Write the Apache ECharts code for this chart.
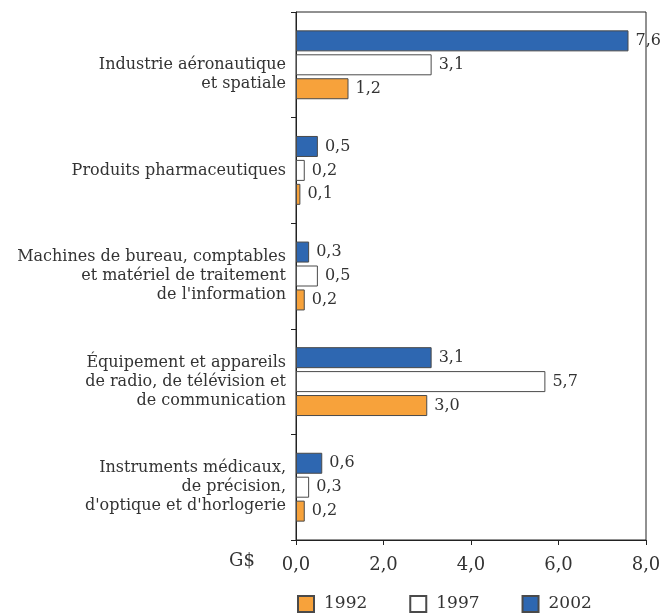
<!DOCTYPE html>
<html>
<head>
<meta charset="utf-8">
<script src="https://cdn.jsdelivr.net/npm/echarts@6/dist/echarts.min.js"></script>
<style>
  html, body { margin: 0; padding: 0; background: #fff; }
  #chart { width: 666px; height: 613px; }
</style>
</head>
<body>
<div id="chart"></div>
<script>
var categories = [
  "Industrie aéronautique\net spatiale",
  "Produits pharmaceutiques",
  "Machines de bureau, comptables\net matériel de traitement\nde l'information",
  "Équipement et appareils\nde radio, de télévision et\nde communication",
  "Instruments médicaux,\nde précision,\nd'optique et d'horlogerie"
];
var years = ["1992", "1997", "2002"];
var values1992 = [1.2, 0.1, 0.2, 3.0, 0.2];
var values1997 = [3.1, 0.2, 0.5, 5.7, 0.3];
var values2002 = [7.6, 0.5, 0.3, 3.1, 0.6];
var xTicks = [0, 2, 4, 6, 8];

var serif = "DejaVu Serif";
var fmt = function (v) { return v.toFixed(1).replace(".", ","); };

function makeSeries(name, data, color) {
  return {
    name: name,
    type: "bar",
    data: data,
    barWidth: 21,
    barGap: "14%",
    itemStyle: { color: color, borderColor: "#4a4a4a", borderWidth: 1 },
    label: {
      show: true,
      position: "right",
      distance: 7,
      color: "#333",
      fontFamily: serif,
      fontSize: 16,
      formatter: function (p) { return fmt(p.value); }
    }
  };
}

var myChart = echarts.init(document.getElementById("chart"));
var option = {
  animation: false,
  title: {
    text: "G$",
    left: 229,
    top: 552,
    padding: 0,
    textStyle: { fontFamily: serif, fontSize: 18, fontWeight: "normal", color: "#333" }
  },
  legend: {
    data: years,
    left: 297,
    top: 595,
    padding: 0,
    itemWidth: 16,
    itemHeight: 16,
    itemGap: 42,
    icon: "rect",
    textStyle: { fontFamily: serif, fontSize: 17, color: "#333", padding: [8, 0, 0, 5] }
  },
  grid: {
    left: 296,
    right: 20,
    top: 12,
    bottom: 73,
    show: true,
    borderColor: "#222",
    borderWidth: 1
  },
  xAxis: {
    type: "value",
    min: xTicks[0],
    max: xTicks[xTicks.length - 1],
    interval: 2,
    axisLine: { show: true, lineStyle: { color: "#222" } },
    axisTick: { show: true, length: 5, lineStyle: { color: "#222" } },
    splitLine: { show: false },
    axisLabel: {
      fontFamily: serif,
      fontSize: 18,
      color: "#333",
      margin: 16,
      formatter: function (v) { return fmt(v); }
    }
  },
  yAxis: {
    type: "category",
    data: categories,
    inverse: true,
    axisLine: { show: true, lineStyle: { color: "#222" } },
    axisTick: { show: true, length: 5, lineStyle: { color: "#222" } },
    axisLabel: {
      fontFamily: serif,
      fontSize: 16,
      color: "#333",
      margin: 10,
      lineHeight: 19,
      align: "right",
      // the first label sits a bit lower than its bars in the original
      formatter: function (v, i) { return i === 0 ? "\n" + v : v; }
    }
  },
  series: [
    makeSeries("2002", values2002, "#2e67b1"),
    makeSeries("1997", values1997, "#ffffff"),
    makeSeries("1992", values1992, "#f7a23b")
  ]
};

myChart.setOption(option);
</script>
</body>
</html>
